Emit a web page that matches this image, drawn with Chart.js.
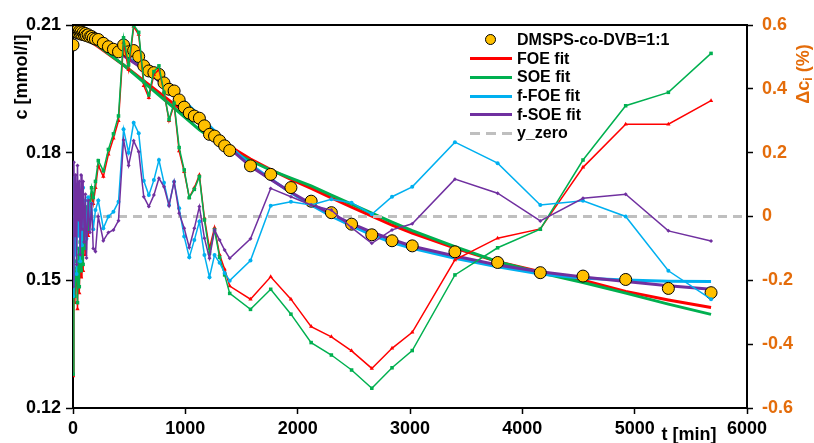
<!DOCTYPE html>
<html>
<head>
<meta charset="UTF-8" />
<title>DMSPS-co-DVB kinetics</title>
<script src="https://cdn.jsdelivr.net/npm/chart.js"></script>
<style>
  body { margin: 0; background: #fff; font-family: "Liberation Sans", Arial, sans-serif; }
  #wrap { position: relative; width: 814px; height: 443px; }
  #legend { position: absolute; left: 470px; top: 31px; font-weight: bold; font-size: 16px; color: #000; }
  .row { height: 18.6px; display: flex; align-items: center; }
  .sample { width: 42px; height: 18px; position: relative; margin-right: 5px; }
  .sample .ln { position: absolute; left: 0; right: 0; top: 7.5px; height: 3px; }
  .sample .dot { position: absolute; left: 15px; top: 3px; width: 11px; height: 11px; border-radius: 50%;
                 background: #FFC000; border: 1px solid #000; box-sizing: border-box; }
</style>
</head>
<body>
<div id="wrap">
  <canvas id="c" width="814" height="443"></canvas>
  <div id="legend"></div>
</div>
<script>
// measurement times [min] (data + residuals)
const tData = [
  0, 8, 16, 24, 32, 40, 48, 56, 64, 72, 80, 90, 100, 110, 120, 135, 150, 165, 180, 200,
  225, 270, 315, 360, 405, 450, 495, 540, 585, 630, 675, 720, 765, 810, 855, 900, 945, 990,
  1035, 1080, 1125, 1170, 1215, 1260, 1305, 1350, 1395,
  1580, 1760, 1940, 2120, 2300, 2480, 2660, 2840, 3020, 3400, 3780, 4160, 4540, 4920, 5300, 5680
];
// measured concentration [mmol/l]
const cData = [
  0.2053, 0.2088, 0.2086, 0.2089, 0.2083, 0.2087, 0.2081, 0.2085, 0.2080, 0.2084, 0.2078, 0.2082, 0.2077, 0.2080, 0.2075, 0.2077, 0.2072, 0.2073, 0.2069, 0.2067,
  0.2066, 0.2057, 0.2049, 0.2043, 0.2037, 0.2053, 0.2037, 0.2040, 0.2026, 0.2004, 0.1992, 0.1988, 0.1984, 0.1964, 0.1949, 0.1945, 0.1924, 0.1907,
  0.1893, 0.1886, 0.1881, 0.1863, 0.1843, 0.1839, 0.1828, 0.1816, 0.1805,
  0.1769, 0.1749, 0.1718, 0.1686, 0.1659, 0.1632, 0.1607, 0.1593, 0.1581, 0.1567, 0.1542, 0.1518, 0.1510, 0.1502, 0.1481, 0.1471
];
// residuals Δc_i (%)
const resFOE = [
  -0.50, -0.10, -0.27, -0.20, -0.16, -0.29, -0.12, -0.24, -0.10, -0.19, -0.06, -0.17, -0.03, -0.12, 0.01, -0.06, 0.03, 0.07, 0.04, 0.09,
  0.16, 0.125, 0.195, 0.245, 0.30, 0.545, 0.46, 0.595, 0.57, 0.41, 0.372, 0.445, 0.46, 0.39, 0.30, 0.35, 0.205, 0.14,
  0.06, 0.09, 0.13, -0.005, -0.10, -0.035, -0.12, -0.165, -0.218,
  -0.259, -0.189, -0.259, -0.345, -0.377, -0.421, -0.476, -0.413, -0.363, -0.136, -0.068, -0.039, 0.154, 0.289, 0.289, 0.363
];
const resSOE = [
  -0.494, -0.08, -0.25, -0.18, -0.14, -0.27, -0.10, -0.22, -0.08, -0.17, -0.04, -0.15, -0.01, -0.10, 0.03, -0.04, 0.05, 0.09, 0.06, 0.11,
  0.175, 0.143, 0.21, 0.259, 0.315, 0.56, 0.475, 0.60, 0.577, 0.422, 0.381, 0.454, 0.472, 0.389, 0.304, 0.355, 0.216, 0.146,
  0.059, 0.085, 0.125, -0.011, -0.115, -0.042, -0.128, -0.183, -0.241,
  -0.291, -0.228, -0.306, -0.395, -0.434, -0.481, -0.538, -0.474, -0.420, -0.183, -0.098, -0.040, 0.177, 0.347, 0.389, 0.511
];
const resFFOE = [
  -0.25, 0.12, -0.12, 0.06, -0.18, 0.10, -0.06, 0.08, -0.14, 0.04, -0.09, 0.09, -0.03, 0.05, -0.07, 0.06, 0.00, 0.04, -0.04, 0.02,
  0.05, -0.037, 0.0, 0.015, 0.046, 0.273, 0.20, 0.294, 0.261, 0.112, 0.067, 0.114, 0.177, 0.106, 0.036, 0.109, 0.026, -0.063,
  -0.128, -0.074, -0.016, -0.121, -0.19, -0.121, -0.145, -0.177, -0.201,
  -0.138, 0.034, 0.046, 0.036, 0.054, 0.043, 0.007, 0.062, 0.093, 0.233, 0.167, 0.036, 0.049, 0.0, -0.170, -0.259
];
const resFSOE = [
  -0.22, 0.17, -0.06, 0.13, -0.15, 0.16, -0.01, 0.11, -0.12, 0.13, -0.04, 0.11, -0.08, 0.07, -0.13, 0.05, -0.05, 0.04, -0.10, -0.11,
  0.0, -0.076, -0.05, -0.042, -0.013, 0.24, 0.16, 0.237, 0.203, 0.062, 0.031, 0.067, 0.12, 0.093, 0.034, 0.109, 0.01, -0.037,
  -0.097, -0.037, 0.031, -0.068, -0.131, -0.042, -0.074, -0.105, -0.131,
  -0.070, 0.088, 0.062, 0.036, 0.020, -0.035, -0.084, -0.042, -0.023, 0.117, 0.073, -0.014, 0.057, 0.070, -0.045, -0.077
];
// fitted curves [mmol/l]
const tFit = [0, 225, 450, 675, 900, 1125, 1395, 1580, 1760, 1940, 2120, 2300, 2480, 2660, 2840, 3020, 3400, 3780, 4160, 4540, 4920, 5300, 5680];
const fitFOE  = [0.2089, 0.2049, 0.2006, 0.1960, 0.1914, 0.1868, 0.1815, 0.1785, 0.1760, 0.1737, 0.1716, 0.1694, 0.1672, 0.1651, 0.1630, 0.1611, 0.1576, 0.1544, 0.1520, 0.1500, 0.1474, 0.1454, 0.1436];
const fitSOE  = [0.2091, 0.2051, 0.2006, 0.1955, 0.1905, 0.1854, 0.1805, 0.1781, 0.1759, 0.1740, 0.1722, 0.1700, 0.1679, 0.1658, 0.1637, 0.1617, 0.1579, 0.1544, 0.1518, 0.1495, 0.1470, 0.1444, 0.1420];
const fitFFOE = [0.2090, 0.2063, 0.2030, 0.1991, 0.1944, 0.1887, 0.1815, 0.1772, 0.1738, 0.1706, 0.1677, 0.1651, 0.1628, 0.1607, 0.1589, 0.1575, 0.1552, 0.1532, 0.1515, 0.1505, 0.1501, 0.1498, 0.1497];
const fitFSOE = [0.2090, 0.2062, 0.2028, 0.1988, 0.1938, 0.1880, 0.1810, 0.1768, 0.1737, 0.1707, 0.1680, 0.1656, 0.1633, 0.1613, 0.1596, 0.1580, 0.1557, 0.1536, 0.1520, 0.1508, 0.1497, 0.1487, 0.1479];
const tZero = [0, 6000];
const yZero = [0, 0];

const xy = (xs, ys) => xs.map((x, i) => ({ x: x, y: ys[i] }));
const FONT = "'Liberation Sans', Arial, sans-serif";
const ORANGE = '#E46C0A';

// order: higher numbers are drawn first (underneath)
const fitLine = (label, ys, color, order) => ({
  label: label, data: xy(tFit, ys), yAxisID: 'y', borderColor: color, backgroundColor: color,
  borderWidth: 3, pointRadius: 0, tension: 0, order: order
});
const resLine = (label, ys, color, style, r, order) => ({
  label: label, data: xy(tData, ys), yAxisID: 'y1', borderColor: color, backgroundColor: color,
  borderWidth: 1.5, pointStyle: style, pointRadius: r, pointBorderWidth: 0, tension: 0, order: order
});

const datasets = [
  { label: 'DMSPS-co-DVB=1:1', data: xy(tData, cData), yAxisID: 'y', showLine: false,
    pointStyle: 'circle', pointRadius: 6, backgroundColor: '#FFC000', borderColor: '#000', pointBorderWidth: 1, order: 1 },
  fitLine('FOE fit', fitFOE, '#FF0000', 3.4),
  fitLine('SOE fit', fitSOE, '#00B050', 3.3),
  fitLine('f-FOE fit', fitFFOE, '#00B0F0', 3.2),
  fitLine('f-SOE fit', fitFSOE, '#7030A0', 3.1),
  { label: 'y_zero', data: xy(tZero, yZero), yAxisID: 'y1', borderColor: '#BFBFBF', borderWidth: 3,
    borderDash: [9, 6], pointRadius: 0, order: 2 },
  resLine('FOE res', resFOE, '#FF0000', 'triangle', 2.5, 0.4),
  resLine('SOE res', resSOE, '#00B050', 'rect', 2.5, 0.3),
  resLine('f-FOE res', resFFOE, '#00B0F0', 'circle', 2, 0.2),
  resLine('f-SOE res', resFSOE, '#7030A0', 'rectRot', 2, 0.1)
];

const tickFont = { family: FONT, size: 18, weight: 'bold' };

const extras = {
  id: 'extras',
  afterDraw(chart) {
    const ctx = chart.ctx, a = chart.chartArea;
    ctx.save();
    ctx.strokeStyle = '#000'; ctx.lineWidth = 2;
    ctx.beginPath(); ctx.moveTo(a.left - 1, a.top); ctx.lineTo(a.right + 1, a.top); ctx.stroke();
    ctx.fillStyle = '#000';
    ctx.font = 'bold 18px ' + FONT;
    ctx.textBaseline = 'middle'; ctx.textAlign = 'center';
    ctx.save(); ctx.translate(22, 77); ctx.rotate(-Math.PI / 2); ctx.fillText('c [mmol/l]', 0, 0); ctx.restore();
    ctx.textBaseline = 'alphabetic';
    ctx.fillText('t [min]', 689, 440);
    // right title  Δc_i (%)
    ctx.save(); ctx.translate(804, 74); ctx.rotate(-Math.PI / 2);
    ctx.fillStyle = ORANGE; ctx.textAlign = 'left'; ctx.textBaseline = 'middle';
    const w1 = ctx.measureText('Δc').width, w3 = ctx.measureText(' (%)').width;
    ctx.font = 'bold 12px ' + FONT;
    const w2 = ctx.measureText('i').width;
    let x0 = -(w1 + w2 + w3) / 2;
    ctx.font = 'bold 18px ' + FONT; ctx.fillText('Δc', x0, 0);
    ctx.font = 'bold 12px ' + FONT; ctx.fillText('i', x0 + w1, 5);
    ctx.font = 'bold 18px ' + FONT; ctx.fillText(' (%)', x0 + w1 + w2, 0);
    ctx.restore();
    ctx.restore();
  }
};

const chart = new Chart(document.getElementById('c'), {
  type: 'line',
  data: { datasets: datasets },
  options: {
    responsive: false,
    animation: false,
    layout: { padding: { top: 25, left: 0, right: 0, bottom: 0 } },
    plugins: { legend: { display: false }, tooltip: { enabled: false } },
    scales: {
      x: {
        type: 'linear', min: 0, max: 6000,
        afterFit: s => { s.height = 35; },
        ticks: { stepSize: 1000, font: tickFont, color: '#000', padding: 4, maxRotation: 0,
                 callback: v => String(Math.round(v)) },
        grid: { drawOnChartArea: false, tickLength: 6, tickColor: '#000', tickWidth: 1.5 },
        border: { color: '#000', width: 2 }
      },
      y: {
        position: 'left', min: 0.12, max: 0.21,
        afterFit: s => { s.width = 73; },
        ticks: { stepSize: 0.03, font: tickFont, color: '#000', padding: 5, callback: v => v.toFixed(2) },
        grid: { drawOnChartArea: false, tickLength: 7, tickColor: '#000', tickWidth: 1.5 },
        border: { color: '#000', width: 2 }
      },
      y1: {
        position: 'right', min: -0.6, max: 0.6,
        afterFit: s => { s.width = 67; },
        ticks: { stepSize: 0.2, font: tickFont, color: ORANGE, padding: 9,
                 callback: v => Math.abs(v) < 1e-9 ? '0' : v.toFixed(1) },
        grid: { drawOnChartArea: false, tickLength: 6, tickColor: '#000', tickWidth: 1.5 },
        border: { color: '#000', width: 2 }
      }
    }
  },
  plugins: [extras]
});

// legend
const legendItems = [
  { label: 'DMSPS-co-DVB=1:1', dot: true },
  { label: 'FOE fit', color: '#FF0000' },
  { label: 'SOE fit', color: '#00B050' },
  { label: 'f-FOE fit', color: '#00B0F0' },
  { label: 'f-SOE fit', color: '#7030A0' },
  { label: 'y_zero', color: '#BFBFBF', dashed: true }
];
const legend = document.getElementById('legend');
legendItems.forEach(it => {
  const row = document.createElement('div'); row.className = 'row';
  const s = document.createElement('div'); s.className = 'sample';
  const m = document.createElement('div');
  if (it.dot) { m.className = 'dot'; }
  else {
    m.className = 'ln';
    m.style.background = it.dashed
      ? 'repeating-linear-gradient(90deg, ' + it.color + ' 0 10px, transparent 10px 16px)'
      : it.color;
  }
  s.appendChild(m); row.appendChild(s);
  const t = document.createElement('span'); t.textContent = it.label; row.appendChild(t);
  legend.appendChild(row);
});
</script>
</body>
</html>
